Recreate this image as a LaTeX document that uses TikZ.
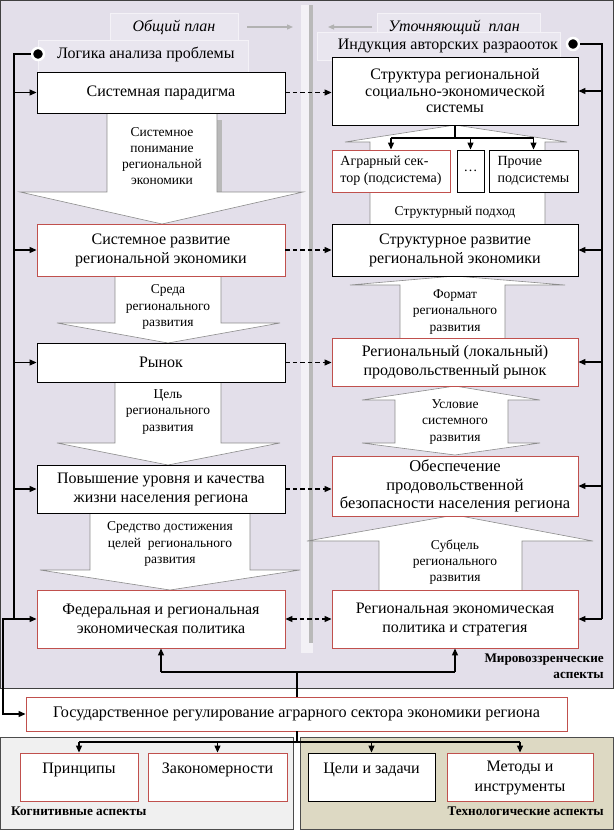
\documentclass[tikz,border=0pt]{standalone}
\usepackage{fontspec}
\setmainfont{Liberation Serif}
\usetikzlibrary{arrows.meta}
\definecolor{lav}{HTML}{E3DFEA}
\definecolor{lavl}{HTML}{E9E6EF}
\definecolor{redb}{HTML}{C0504D}
\definecolor{khaki}{HTML}{DDD9C3}
\definecolor{lgray}{HTML}{F0F0F0}
\definecolor{arrg}{HTML}{8C8C8C}
\begin{document}
\begin{tikzpicture}[x=1pt,y=-1pt,
  box/.style={draw=black, line width=0.9pt, fill=white, inner sep=0pt, align=center,
    font=\fontsize{16}{19}\selectfont},
  lbox/.style={box, minimum width=248pt},
  rbox/.style={box, minimum width=246pt},
  redc/.style={draw=redb},
  blk/.style={draw=arrg, line width=0.6pt, fill=white},
  lbl/.style={align=center, inner sep=0pt, font=\fontsize{13.5}{16.2}\selectfont},
  conn/.style={line width=1.2pt, draw=black},
  tip/.style={-{Triangle[length=7pt,width=6pt]}},
  tips/.style={{Triangle[length=7pt,width=6pt]}-{Triangle[length=7pt,width=6pt]}},
  dsh/.style={line width=1.2pt, dash pattern=on 4.5pt off 3pt},
  dotn/.style={circle, fill=black, draw=white, line width=2.5pt, minimum size=12pt, inner sep=0pt},
  hdr/.style={inner sep=0pt, font=\itshape\fontsize{16}{18}\selectfont},
  sub/.style={inner sep=0pt, font=\fontsize{16}{19}\selectfont},
  asp/.style={inner sep=0pt, font=\bfseries\fontsize{13.2}{16.5}\selectfont},
  ghost/.style={fill=lavl, draw=white!60!lav, line width=0.6pt}
]
\useasboundingbox (0,0) rectangle (614,830);
\fill[white] (0,0) rectangle (614,830);
% panels
\fill[lav] (0,0) rectangle (614,688);
\draw[black!75, line width=1pt] (0.5,0.5) rectangle (613.5,688);
\draw[black!70, line width=0.8pt, fill=lgray] (0.5,737) rectangle (293,829.5);
\draw[black!70, line width=0.8pt, fill=khaki] (300,737) rectangle (613.5,829.5);

% divider
\fill[white!55!lav] (301,5) rectangle (313,653);
\fill[gray!55] (309,5) rectangle (313,643);

% header ghosts
\path[ghost] (110,13) rectangle (238,40);
\path[ghost] (38,40) rectangle (248,72);
\path[ghost] (377,13) rectangle (540,36);
\path[ghost] (317,32) rectangle (560,60);
\node[hdr] (hl) at (174,27) {Общий план};
\node[hdr] (hr) at (454,27) {Уточняющий\ \ план};
\coordinate (ga1) at (247,27); \coordinate (ga2) at (293,27);
\coordinate (gb1) at (372,27); \coordinate (gb2) at (328,27);
\draw[gray!60, line width=1.2pt, -{Triangle[length=6pt,width=5pt]}] (ga1) -- (ga2);
\draw[gray!60, line width=1.2pt, -{Triangle[length=6pt,width=5pt]}] (gb1) -- (gb2);
\node[sub, anchor=west] (tl) at (57,54) {Логика анализа проблемы};
\node[sub, anchor=east] (tr) at (558,46) {Индукция авторских разраооток};

% block arrows left
\fill[gray!55] (217,120) rectangle (222,192);
\draw[blk] (107,113) -- (107,192) -- (20,192) -- (162,224) -- (303,192) -- (217,192) -- (217,113);
\draw[blk] (115,276) -- (115,323) -- (57,323) -- (168,343) -- (280,323) -- (221,323) -- (221,276);
\draw[blk] (115,382) -- (115,443) -- (57,443) -- (168,465) -- (280,443) -- (221,443) -- (221,382);
\draw[blk] (90,513) -- (90,570) -- (40,570) -- (170,590) -- (300,570) -- (250,570) -- (250,513);
% block arrows right
\draw[blk] (370,224) -- (370,142) -- (345,142) -- (455,125) -- (567,142) -- (545,142) -- (545,224);
\draw[blk] (400,338) -- (400,285) -- (350,285) -- (455,276) -- (565,285) -- (505,285) -- (505,338);
\draw[blk] (455,386) -- (540,400) -- (508,400) -- (508,443) -- (540,443) -- (455,455) -- (362,443) -- (395,443) -- (395,400) -- (362,400) -- cycle;
\draw[blk] (379,590) -- (379,541) -- (307,541) -- (455,515) -- (593,541) -- (522,541) -- (522,590);

\node[lbl] (la1) at (162,156) {Системное\\понимание\\региональной\\экономики};
\node[lbl] (la2) at (168,307) {Среда\\регионального\\развития};
\node[lbl] (la3) at (168,412) {Цель\\регионального\\развития};
\node[lbl] (la4) at (170,544) {Средство достижения\\целей\ \ регионального\\развития};
\node[lbl] (lb0) at (455,212) {Структурный подход};
\node[lbl] (lb1) at (455,312) {Формат\\регионального\\развития};
\node[lbl] (lb2) at (455,422) {Условие\\системного\\развития};
\node[lbl] (lb3) at (455,562) {Субцель\\регионального\\развития};

% left boxes
\node[lbox, minimum height=41pt] (par) at (161,92.5) {Системная парадигма};
\node[lbox, redc, minimum height=52pt] (razv) at (161,250) {Системное развитие\\региональной экономики};
\node[lbox, minimum height=39pt] (rynok) at (161,362.5) {Рынок};
\node[lbox, minimum height=48pt] (pov) at (161,489) {Повышение уровня и качества\\жизни населения региона};
\node[lbox, redc, minimum height=58pt] (fed) at (161,619) {Федеральная и региональная\\экономическая политика};
% right boxes
\node[rbox, minimum height=68pt, font=\fontsize{16}{16.5}\selectfont] (str) at (455,91) {Структура региональной\\социально-экономической\\системы};
\node[rbox, minimum height=52pt] (strrazv) at (455,250) {Структурное развитие\\региональной экономики};
\node[rbox, redc, minimum height=48pt] (rynok2) at (455,362) {Региональный (локальный)\\продовольственный рынок};
\node[rbox, redc, minimum height=60pt, font=\fontsize{16.5}{18.5}\selectfont] (obesp) at (455,486) {Обеспечение\\продовольственной\\безопасности населения региона};
\node[rbox, redc, minimum height=58pt] (polit) at (455,619) {Региональная экономическая\\политика и стратегия};
% subsystems
\node[box, redc, minimum width=118pt, minimum height=42pt, align=left, font=\fontsize{14}{17}\selectfont] (agr) at (391,171) {Аграрный сек-\\тор (подсистема)};
\node[box, minimum width=27pt, minimum height=42pt, font=\fontsize{14}{17}\selectfont] (dots) at (470.5,171) {…};
\node[box, minimum width=89pt, minimum height=42pt, align=left, font=\fontsize{14}{17}\selectfont] (proch) at (533.5,171) {Прочие\\подсистемы};

% tree from structure
\coordinate (sb) at (455,138);
\draw[conn] (str.south) -- (sb);
\draw[conn] (agr.north |- sb) -- (proch.north |- sb);
\draw[conn,tip] (agr.north |- sb) -- (agr.north);
\draw[conn,tip] (dots.north |- sb) -- (dots.north);
\draw[conn,tip] (proch.north |- sb) -- (proch.north);

% dashed connectors
\draw[dsh,tip] (par.east) -- (str.west |- par.east);
\draw[dsh,tip] (razv.east) -- (strrazv.west);
\draw[dsh,tip] (rynok.east) -- (rynok2.west |- rynok.east);
\draw[dsh,tip] (pov.east) -- (obesp.west |- pov.east);
\draw[dsh,tips] (fed.east) -- (polit.west);

% bottom boxes
\node[box, redc, minimum width=541pt, minimum height=34pt, font=\fontsize{16.2}{18}\selectfont] (gov) at (296.5,714) {Государственное регулирование аграрного сектора экономики региона};
\node[box, redc, minimum width=118pt, minimum height=48pt] (princ) at (79,777) {};
\node[box, redc, minimum width=139pt, minimum height=48pt] (zakon) at (217.5,777) {};
\node[box, minimum width=127pt, minimum height=48pt] (celi) at (371.5,777) {};
\node[box, redc, minimum width=146pt, minimum height=48pt] (metod) at (520,777) {};
\node[sub] (tp) at (79,770) {Принципы};
\node[sub] (tz) at (217.5,770) {Закономерности};
\node[sub] (tc) at (371.5,770) {Цели и задачи};
\node[sub, align=center, font=\fontsize{16}{20}\selectfont] (tm) at (520,778) {Методы и\\инструменты};

% aspect labels
\node[asp, anchor=east, align=right] (mir) at (604,666) {Мировоззренческие\\аспекты};
\node[asp, anchor=west] (kog) at (11,811) {Когнитивные аспекты};
\node[asp, anchor=east] (teh) at (604,811) {Технологические аспекты};

% left bus
\node[dotn] (dl) at (38,54) {};
\coordinate (lb) at (14,54);
\coordinate (lbe) at (14,619);
\coordinate (lf) at (3,619);
\draw[conn] (dl) -- (lb) -- (lbe);
\draw[conn,tip] (par.west -| lb) -- (par.west);
\draw[conn,tip] (razv.west -| lb) -- (razv.west);
\draw[conn,tip] (rynok.west -| lb) -- (rynok.west);
\draw[conn,tip] (pov.west -| lb) -- (pov.west);
\draw[conn,tips] (fed.west) -- (lf) |- (gov.west);

% right bus
\node[dotn] (dr) at (573,44) {};
\coordinate (rb) at (602,44);
\coordinate (rbe) at (602,619);
\draw[conn] (dr) -- (rb) -- (rbe);
\draw[conn,tip] (str.east -| rb) -- (str.east);
\draw[conn,tip] (strrazv.east -| rb) -- (strrazv.east);
\draw[conn,tip] (rynok2.east -| rb) -- (rynok2.east);
\draw[conn,tip] (obesp.east -| rb) -- (obesp.east);
\draw[conn,tip] (rbe) -- (polit.east);

% from government regulation upward
\coordinate (gt) at (297,672);
\draw[conn] (gt |- gov.north) -- (gt);
\draw[conn] (fed.south |- gt) -- (polit.south |- gt);
\draw[conn,tip] (fed.south |- gt) -- (fed.south);
\draw[conn,tip] (polit.south |- gt) -- (polit.south);
% downward
\coordinate (gd) at (297,742);
\draw[conn] (gd |- gov.south) -- (gd);
\draw[conn] (princ.north |- gd) -- (metod.north |- gd);
\draw[conn,tip] (princ.north |- gd) -- (princ.north);
\draw[conn,tip] (zakon.north |- gd) -- (zakon.north);
\draw[conn,tip] (celi.north |- gd) -- (celi.north);
\draw[conn,tip] (metod.north |- gd) -- (metod.north);
\end{tikzpicture}
\end{document}
